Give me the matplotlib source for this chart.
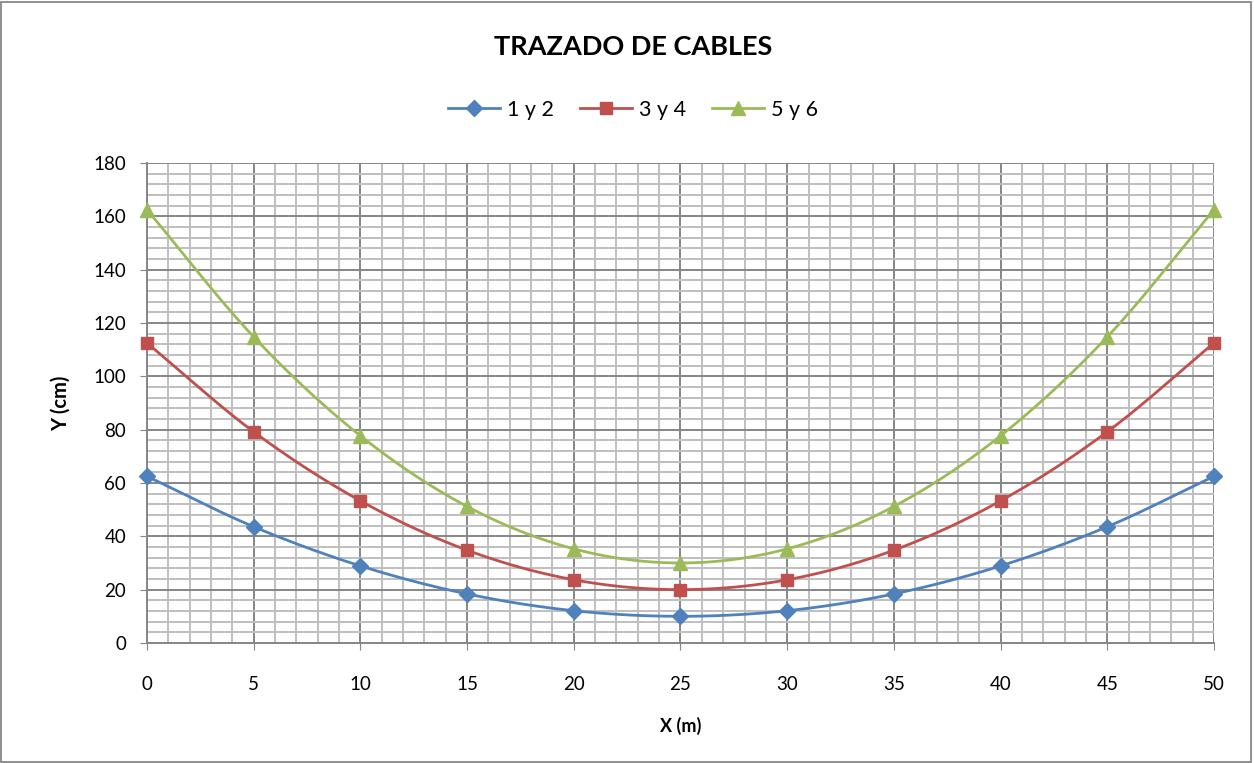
import numpy as np
import matplotlib.pyplot as plt
from matplotlib.patches import Rectangle
from matplotlib.ticker import MultipleLocator

plt.rcParams['font.family'] = ['Lato', 'DejaVu Sans']

# Datos de trazado de cables
x_m = [0, 5, 10, 15, 20, 25, 30, 35, 40, 45, 50]
cable_1_2 = [62.5, 43.6, 28.9, 18.4, 12.1, 10.0, 12.1, 18.4, 28.9, 43.6, 62.5]
cable_3_4 = [112.5, 79.2, 53.3, 34.8, 23.7, 20.0, 23.7, 34.8, 53.3, 79.2, 112.5]
cable_5_6 = [162.5, 114.8, 77.7, 51.2, 35.3, 30.0, 35.3, 51.2, 77.7, 114.8, 162.5]
nombres = ['1 y 2', '3 y 4', '5 y 6']
colores = ['#4F81BD', '#C0504D', '#9BBB59']
marcadores = ['D', 's', '^']
tam_marcador = [8, 9, 10]


def suavizar(x, y, n=20):
    # curva Catmull-Rom entre los puntos (linea suavizada)
    x = np.asarray(x, float)
    y = np.asarray(y, float)
    px = np.concatenate([[2 * x[0] - x[1]], x, [2 * x[-1] - x[-2]]])
    py = np.concatenate([[2 * y[0] - y[1]], y, [2 * y[-1] - y[-2]]])
    xs, ys = [], []
    t = np.linspace(0, 1, n, endpoint=False)
    for i in range(1, len(px) - 2):
        for p, out in ((px, xs), (py, ys)):
            p0, p1, p2, p3 = p[i - 1], p[i], p[i + 1], p[i + 2]
            out.extend(0.5 * ((2 * p1) + (-p0 + p2) * t
                              + (2 * p0 - 5 * p1 + 4 * p2 - p3) * t ** 2
                              + (-p0 + 3 * p1 - 3 * p2 + p3) * t ** 3))
    xs.append(x[-1])
    ys.append(y[-1])
    return xs, ys


fig = plt.figure(figsize=(12.54, 7.63), dpi=100)
ax = fig.add_axes([0.1172, 0.1573, 0.8509, 0.6291])

for serie, nombre, c, m, ms in zip([cable_1_2, cable_3_4, cable_5_6], nombres,
                                   colores, marcadores, tam_marcador):
    xs, ys = suavizar(x_m, serie)
    ax.plot(xs, ys, color=c, lw=2, zorder=3)
    ax.plot(x_m, serie, ls='none', marker=m, ms=ms, color=c, zorder=4,
            clip_on=False)
    ax.plot([], [], color=c, lw=2, marker=m, ms=ms, label=nombre)

ax.set_xlim(0, 50)
ax.set_ylim(0, 180)
ax.xaxis.set_major_locator(MultipleLocator(5))
ax.xaxis.set_minor_locator(MultipleLocator(1))
ax.yaxis.set_major_locator(MultipleLocator(20))
ax.yaxis.set_minor_locator(MultipleLocator(4))
ax.grid(which='major', color='#868686', lw=1.4, zorder=1)
ax.grid(which='minor', color='#BFBFBF', lw=1.4, zorder=0)
ax.set_axisbelow(True)
ax.tick_params(which='major', labelsize=13.5, length=5, color='#868686', pad=10)
ax.tick_params(which='minor', length=0)
ax.tick_params(axis='x', pad=19)
for lado in ['top', 'right']:
    ax.spines[lado].set_visible(False)
for lado in ['left', 'bottom']:
    ax.spines[lado].set_color('#868686')
    ax.spines[lado].set_linewidth(1.4)

ax.set_xlabel('X (m)', fontsize=13, fontweight='bold', labelpad=17)
ax.set_ylabel('Y (cm)', fontsize=14.5, fontweight='bold', labelpad=16)

fig.text(0.505, 0.938, 'TRAZADO DE CABLES', ha='center', va='center',
         fontsize=19.5, fontweight='bold')
fig.legend(loc='center', bbox_to_anchor=(0.505, 0.856), ncol=3, frameon=False,
           fontsize=15.5, handlelength=2.4, columnspacing=1.2, handletextpad=0.35)

fig.patches.append(Rectangle((0.001, 0.001), 0.997, 0.997, transform=fig.transFigure,
                             fill=False, edgecolor='#868686', lw=1.3))

fig.savefig('out.png', dpi=100)
